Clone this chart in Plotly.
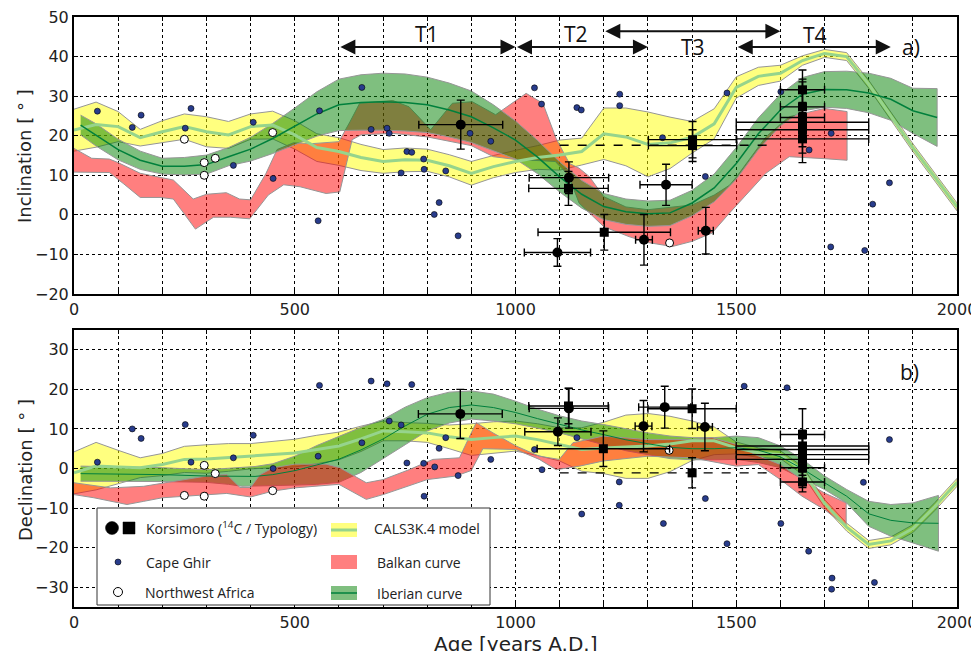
import plotly.graph_objects as go

# ---------------- DATA ----------------
# CALS3K.4 model (center and half-width of band)
cals_yr = [0, 50, 100, 150, 200, 250, 300, 350, 400, 450, 500, 550, 600, 650, 700, 750, 800, 850, 900, 950,
           1000, 1050, 1100, 1150, 1200, 1250, 1300, 1350, 1400, 1450, 1500, 1550, 1600, 1650, 1700, 1750,
           1800, 1850, 1900, 1950, 2000]
cals_inc = [21.4, 22.8, 22.3, 19.5, 21.0, 22.3, 21.0, 20.2, 22.3, 22.7, 20.2, 17.0, 16.0, 14.5, 13.5, 13.9,
            13.8, 12.4, 10.5, 12.2, 13.5, 14.5, 15.1, 16.0, 20.5, 19.7, 17.8, 18.2, 19.6, 23.0, 32.2, 35.0,
            35.8, 39.0, 40.8, 40.0, 33.0, 25.0, 17.0, 9.5, 2.0]
cals_inc_hw = [5.3, 5.7, 3.8, 2.1, 2.8, 3.2, 3.8, 3.4, 3.2, 3.5, 3.6, 3.5, 3.5, 3.3, 3.0, 3.0, 2.8, 2.8, 3.0,
               2.8, 2.8, 3.0, 3.8, 3.4, 6.5, 7.3, 8.2, 6.5, 4.0, 3.8, 2.7, 2.3, 2.0, 1.2, 1.0, 1.0, 1.0, 1.0,
               1.0, 1.0, 1.0]
cals_dec = [-1.1, 0.6, 0.4, 0.2, 1.0, 2.3, 2.4, 2.8, 3.1, 3.5, 3.9, 4.8, 5.7, 7.5, 9.5, 9.3, 9.0, 8.0, 7.3,
            7.8, 8.2, 7.3, 6.1, 4.8, 5.2, 5.5, 5.7, 6.2, 7.0, 7.0, 5.2, 4.0, 3.5, -0.5, -8.8, -14.8, -19.2,
            -18.3, -15.2, -9.6, -3.5]
cals_dec_hw = [5.3, 6.0, 4.2, 2.5, 2.8, 3.3, 3.6, 3.5, 3.2, 3.3, 3.5, 3.6, 3.5, 3.2, 2.5, 2.3, 2.4, 3.0, 4.0,
               4.0, 3.8, 4.0, 4.2, 5.5, 6.5, 8.0, 8.2, 7.0, 5.0, 3.5, 1.5, 1.2, 1.0, 1.0, 1.0, 1.0, 1.0, 1.0,
               1.0, 1.0, 1.0]

# Iberian curve
ib_inc_yr = [15, 50, 100, 150, 200, 250, 300, 350, 400, 450, 500, 550, 600, 650, 700, 750, 800, 850, 900, 950,
             1000, 1050, 1100, 1150, 1200, 1250, 1300, 1350, 1400, 1450, 1500, 1550, 1600, 1650, 1700, 1750,
             1800, 1850, 1900, 1955]
ib_inc = [22.7, 20.2, 16.5, 13.8, 12.3, 12.3, 12.7, 14.7, 16.6, 19.3, 22.3, 25.5, 27.8, 28.4, 28.6, 28.4, 27.8,
          26.5, 24.8, 22.0, 18.9, 14.6, 9.6, 5.2, 2.1, 0.8, 0.3, 0.5, 3.0, 6.8, 13.0, 20.5, 26.5, 30.5, 31.7,
          31.6, 30.8, 29.2, 26.3, 24.6]
ib_inc_hw = [2.5, 2.8, 2.6, 2.3, 2.0, 2.2, 2.4, 2.3, 3.0, 3.8, 4.7, 5.6, 6.5, 7.0, 7.2, 7.2, 7.0, 6.8, 6.5, 5.8,
             4.8, 4.2, 3.8, 3.5, 3.3, 3.2, 3.2, 3.2, 3.2, 3.5, 4.0, 4.0, 4.0, 4.2, 4.5, 4.7, 5.0, 5.3, 5.7, 7.3]
ib_dec_yr = [15, 100, 200, 300, 350, 380, 410, 450, 500, 550, 600, 650, 700, 750, 800, 850, 900, 950, 1000,
             1050, 1100, 1150, 1200, 1250, 1300, 1350, 1400, 1450, 1500, 1550, 1600, 1650, 1700, 1750, 1800,
             1850, 1900, 1958]
ib_dec_up = [0.6, 0.5, 0.2, -0.3, 0.0, 0.3, 0.5, 1.2, 3.1, 5.8, 8.2, 10.4, 12.4, 15.5, 17.9, 19.3, 19.6, 18.8,
             17.0, 15.0, 13.3, 12.0, 11.1, 10.0, 9.0, 8.2, 7.8, 7.8, 8.2, 7.8, 5.7, 2.3, -1.9, -5.3, -8.3, -9.1,
             -8.7, -6.8]
ib_dec_lo = [-3.2, -3.2, -3.3, -3.5, -4.0, -4.5, -4.5, -4.3, -4.2, -4.0, -3.5, -1.0, 2.5, 6.0, 9.5, 11.5, 12.5,
             12.0, 11.3, 10.2, 9.0, 7.5, 6.0, 4.5, 3.5, 2.5, 2.2, 2.2, 2.3, 1.5, 0.2, -2.5, -5.3, -8.7, -14.6,
             -17.1, -18.8, -20.9]

# Balkan curve (upper / lower envelopes)
bk_inc_up_yr = [0, 40, 80, 100, 150, 195, 225, 270, 300, 345, 375, 400, 435, 460, 497, 540, 600, 625, 647, 722,
                759, 808, 857, 902, 955, 1024, 1062, 1092, 1122, 1144, 1167, 1200, 1250, 1300, 1400, 1450, 1485,
                1500, 1567, 1620, 1700, 1751]
bk_inc_up = [16.8, 14.3, 14.1, 13.2, 10.5, 9.4, 8.8, 4.0, 5.2, 5.6, 4.0, 3.8, 10.5, 16.5, 18.2, 18.0, 18.5, 23.5,
             28.2, 28.9, 27.3, 21.5, 28.2, 28.6, 25.3, 30.7, 28.2, 19.3, 13.0, 11.8, 9.7, 4.6, 2.0, 1.3, 2.5, 5.0,
             7.5, 9.5, 19.7, 24.8, 26.9, 26.1]
bk_inc_lo_yr = [0, 80, 113, 150, 195, 225, 275, 316, 354, 398, 440, 475, 512, 571, 602, 630, 650, 722, 800, 900,
                950, 1000, 1050, 1090, 1120, 1144, 1200, 1257, 1300, 1355, 1400, 1445, 1485, 1500, 1567, 1620,
                1700, 1751]
bk_inc_lo = [10.8, 10.7, 7.8, 4.4, 4.4, 4.0, -3.6, -0.6, -0.6, -1.0, 5.0, 7.6, 7.1, 5.4, 5.8, 19.0, 20.2, 20.6,
             19.7, 17.5, 14.7, 14.0, 13.8, 13.5, 10.0, 3.0, -3.0, -5.5, -7.0, -8.0, -6.7, -4.6, 0.5, 2.5, 10.5,
             14.7, 14.2, 13.8]
bk_dec_up_yr = [0, 83, 158, 248, 300, 346, 376, 400, 421, 451, 500, 571, 602, 662, 700, 759, 813, 873, 911, 949,
                1001, 1054, 1099, 1130, 1160, 1199, 1299, 1400, 1445, 1500, 1543, 1600, 1649, 1700, 1749]
bk_dec_up = [-3.6, -4.9, -4.5, -2.8, -1.9, -1.5, -4.8, -4.8, -1.6, 0.2, 1.1, 1.1, 0.2, -3.6, -2.8, -0.3, 2.3, 2.7,
             11.6, 9.0, 5.7, 3.1, 2.3, 6.5, 7.3, 8.2, 7.3, 7.3, 7.8, 6.1, 3.5, 1.0, -2.8, -6.2, -8.7]
bk_dec_lo_yr = [0, 45, 120, 158, 200, 300, 346, 400, 451, 500, 600, 662, 700, 800, 865, 900, 926, 1001, 1054,
                1092, 1145, 1199, 1299, 1400, 1500, 1550, 1600, 1649, 1700, 1749]
bk_dec_lo = [-6.6, -7.4, -9.1, -8.3, -7.4, -6.6, -6.3, -7.2, -5.7, -4.9, -4.0, -7.8, -6.6, -2.8, -1.9, -0.5, 5.0,
             4.8, 2.3, -0.3, 0.6, 1.9, 3.1, 2.7, 0.6, 1.0, -2.8, -7.0, -10.4, -14.6]

# Cape Ghir
cg_inc_yr = [53, 132, 152, 252, 265, 361, 406, 451, 553, 556, 652, 673, 709, 714, 741, 754, 765, 792, 793, 816,
             827, 842, 870, 897, 944, 1043, 1059, 1139, 1149, 1236, 1236, 1333, 1430, 1479, 1601, 1665, 1715,
             1809, 1847, 1714, 1791]
cg_inc = [26.2, 22.1, 25.2, 21.9, 26.9, 12.5, 23.4, 9.2, -1.5, 26.3, 32.2, 21.6, 21.9, 20.6, 10.6, 16.0, 15.8,
          14.1, 11.5, 0.1, 3.1, 11.1, -5.3, 20.6, 18.6, 32.1, 28.0, 27.1, 26.5, 30.5, 27.6, 19.5, 9.7, 30.8,
          31.1, 16.4, 20.6, 2.7, 8.1, -8.1, -9.0]
cg_dec_yr = [53, 132, 152, 252, 265, 361, 406, 451, 553, 556, 652, 673, 709, 714, 741, 754, 765, 792, 793, 817,
             827, 842, 870, 944, 1043, 1060, 1139, 1150, 1235, 1235, 1335, 1430, 1479, 1518, 1601, 1615, 1664,
             1788, 1847, 1717, 1716, 1813]
cg_dec = [1.6, 10.0, 7.6, 11.1, 1.6, 2.7, 8.4, 0.0, 3.1, 21.0, 6.5, 22.1, 21.4, 12.0, 11.0, 1.4, 21.2, 1.3, -7.0,
          0.4, 5.1, 7.8, -1.8, 2.3, 4.8, -0.3, 7.8, -11.5, -3.4, -9.3, -13.9, -7.6, -19.0, 20.8, -13.9, 20.4,
          -20.9, -3.5, 7.3, -27.7, -30.5, -28.8]

# Northwest Africa
nw_inc_yr = [250, 295, 295, 320, 450, 1349]
nw_inc = [19.1, 13.2, 10.0, 14.3, 20.8, -7.1]
nw_dec_yr = [250, 295, 295, 320, 450, 1348]
nw_dec = [-6.8, 0.8, -7.0, -1.3, -5.6, 4.6]

# Korsimoro (14C = circles, typology = squares)
kc_inc_yr = [876, 1121, 1095, 1291, 1341, 1431]
kc_inc = [22.8, 9.4, -9.5, -6.3, 7.6, -4.0]
kc_inc_xe = [95, 90, 75, 19, 59, 17]
kc_inc_ye = [6.2, 4.0, 3.5, 6.4, 5.2, 5.9]
ks_inc_yr = [1120, 1201, 1401, 1401, 1650, 1650, 1650, 1650, 1650, 1650]
ks_inc = [6.7, -4.4, 19.0, 17.5, 31.6, 27.3, 24.6, 23.4, 21.5, 19.2]
ks_inc_xe = [90, 150, 100, 100, 50, 50, 50, 150, 150, 150]
ks_inc_ye = [4.3, 4.5, 4.6, 4.0, 5.0, 7.0, 9.0, 5.0, 4.3, 6.0]
kc_dec_yr = [875, 1096, 1121, 1290, 1338, 1429]
kc_dec = [13.8, 9.3, 15.2, 10.7, 15.5, 10.5]
kc_dec_xe = [95, 75, 90, 19, 59, 17]
kc_dec_ye = [6.2, 3.5, 5.0, 6.5, 5.3, 6.0]
ks_dec_yr = [1120, 1199, 1400, 1400, 1650, 1650, 1650, 1650, 1650, 1650, 1650]
ks_dec = [15.8, 5.0, 15.1, -1.1, 8.6, 5.7, 4.8, 3.5, 2.3, 0.2, -3.4]
ks_dec_xe = [90, 150, 100, 0, 50, 150, 150, 150, 150, 50, 50]
ks_dec_ye = [4.5, 4.5, 5.0, 3.8, 6.5, 4.0, 4.0, 4.0, 4.0, 5.0, 2.5]
# typology age range shown dashed
typ_yr = [1100, 1583]
typ_inc = 17.6
typ_dec = -1.1

# Periods T1..T4
periods = ["T1", "T2", "T3", "T4"]
period_start = [600, 1000, 1200, 1500]
period_end = [1000, 1300, 1600, 1850]
period_level = [42.4, 42.4, 46.4, 42.4]
period_lbl_x = [800, 1137, 1402, 1678]
period_lbl_y = [45.6, 45.6, 42.5, 45.4]

# ---------------- STYLE ----------------
YEL = "rgba(255,255,0,0.5)"
RED = "rgba(255,0,0,0.5)"
GRN = "rgba(0,128,0,0.5)"
EDGE = "rgb(150,150,150)"
CALS_LINE = "rgb(150,212,140)"
IB_LINE = "rgb(0,128,60)"
NAVY = "rgb(40,60,140)"

fig = go.Figure()


def band(xu, yu, xl, yl, color, xa, ya):
    xs = list(xu) + list(reversed(xl))
    ys = list(yu) + list(reversed(yl))
    fig.add_trace(go.Scatter(x=xs, y=ys, fill="toself", fillcolor=color, mode="lines",
                             line=dict(color=EDGE, width=1), hoverinfo="skip", showlegend=False,
                             xaxis=xa, yaxis=ya))


def line(x, y, color, width, xa, ya, dash="solid"):
    fig.add_trace(go.Scatter(x=x, y=y, mode="lines", line=dict(color=color, width=width, dash=dash),
                             hoverinfo="skip", showlegend=False, xaxis=xa, yaxis=ya))


def pts(x, y, xa, ya, size, color, lw, symbol="circle", xe=None, ye=None):
    kw = {}
    if xe is not None:
        kw["error_x"] = dict(type="data", array=xe, color="black", thickness=1.4, width=4)
        kw["error_y"] = dict(type="data", array=ye, color="black", thickness=1.4, width=4)
    fig.add_trace(go.Scatter(x=x, y=y, mode="markers",
                             marker=dict(size=size, color=color, symbol=symbol,
                                         line=dict(color="black", width=lw)),
                             hoverinfo="skip", showlegend=False, xaxis=xa, yaxis=ya, **kw))


# ---- top panel: inclination ----
cu = [c + h for c, h in zip(cals_inc, cals_inc_hw)]
cl = [c - h for c, h in zip(cals_inc, cals_inc_hw)]
band(cals_yr, cu, cals_yr, cl, YEL, "x", "y")
band(bk_inc_up_yr, bk_inc_up, bk_inc_lo_yr, bk_inc_lo, RED, "x", "y")
iu = [c + h for c, h in zip(ib_inc, ib_inc_hw)]
il = [c - h for c, h in zip(ib_inc, ib_inc_hw)]
band(ib_inc_yr, iu, ib_inc_yr, il, GRN, "x", "y")
line(cals_yr, cals_inc, CALS_LINE, 3, "x", "y")
line(ib_inc_yr, ib_inc, IB_LINE, 1.5, "x", "y")
pts(cg_inc_yr, cg_inc, "x", "y", 6, NAVY, 0.6)
pts(nw_inc_yr, nw_inc, "x", "y", 8, "white", 1)
line(typ_yr, [typ_inc] * len(typ_yr), "black", 1.4, "x", "y", dash="dash")
pts(kc_inc_yr, kc_inc, "x", "y", 10, "black", 0, "circle", kc_inc_xe, kc_inc_ye)
pts(ks_inc_yr, ks_inc, "x", "y", 9, "black", 0, "square", ks_inc_xe, ks_inc_ye)

# ---- bottom panel: declination ----
cu = [c + h for c, h in zip(cals_dec, cals_dec_hw)]
cl = [c - h for c, h in zip(cals_dec, cals_dec_hw)]
band(cals_yr, cu, cals_yr, cl, YEL, "x2", "y2")
band(ib_dec_yr, ib_dec_up, ib_dec_yr, ib_dec_lo, GRN, "x2", "y2")
band(bk_dec_up_yr, bk_dec_up, bk_dec_lo_yr, bk_dec_lo, RED, "x2", "y2")
line(cals_yr, cals_dec, CALS_LINE, 3, "x2", "y2")
line(ib_dec_yr, [(a + b) / 2 for a, b in zip(ib_dec_up, ib_dec_lo)], IB_LINE, 1.0, "x2", "y2")
pts(cg_dec_yr, cg_dec, "x2", "y2", 6, NAVY, 0.6)
pts(nw_dec_yr, nw_dec, "x2", "y2", 8, "white", 1)
line(typ_yr, [typ_dec] * len(typ_yr), "black", 1.4, "x2", "y2", dash="dash")
pts(kc_dec_yr, kc_dec, "x2", "y2", 10, "black", 0, "circle", kc_dec_xe, kc_dec_ye)
pts(ks_dec_yr, ks_dec, "x2", "y2", 9, "black", 0, "square", ks_dec_xe, ks_dec_ye)

# ---------------- LAYOUT ----------------
# page body has an 8 px margin; figure sized so that the plot area lands where the reference has it
OFF = 8
W, H = 979 - OFF, 651 - OFF
ML, MR, MT, MB = 74 - OFF, 22, 17 - OFF, 44
PW = W - ML - MR
PH = H - MT - MB


def xp(px):  # window pixel -> paper fraction
    return (px - OFF - ML) / PW


def yp(py):
    return (H - MB - (py - OFF)) / PH


tick_font = dict(family="DejaVu Sans", size=16, color="#222")
xtv = [v for v in range(0, 2001, 100)]
xtt = [str(v) if v % 500 == 0 else "" for v in xtv]
xcommon = dict(range=[0, 2000], tickvals=xtv, ticktext=xtt, showgrid=True, gridcolor="black",
               griddash="dot", gridwidth=1, showline=True, linecolor="black", linewidth=2, mirror="ticks",
               ticks="inside", ticklen=4, tickcolor="black", tickfont=tick_font, zeroline=False,
               automargin=False, ticklabeloverflow="allow")
ycommon = dict(showgrid=True, gridcolor="black", griddash="dot", gridwidth=1, showline=True,
               linecolor="black", linewidth=2, mirror="ticks", ticks="inside", ticklen=4, tickcolor="black",
               tickfont=tick_font, zeroline=False, automargin=False, ticklabeloverflow="allow")

fig.update_layout(
    width=W, height=H, margin=dict(l=ML, r=MR, t=MT, b=MB, pad=0, autoexpand=False),
    paper_bgcolor="white", plot_bgcolor="white", showlegend=False,
    xaxis=dict(anchor="y", **xcommon),
    yaxis=dict(domain=[yp(294), 1], range=[-20, 50], tickvals=[-20, -10, 0, 10, 20, 30, 40, 50], **ycommon),
    xaxis2=dict(anchor="y2", **xcommon),
    yaxis2=dict(domain=[0, yp(330)], range=[-35, 35], tickvals=[-30, -20, -10, 0, 10, 20, 30], **ycommon),
)

ann = []
# period arrows and labels
for name, s, e, lv, lx, ly in zip(periods, period_start, period_end, period_level, period_lbl_x, period_lbl_y):
    ann.append(dict(x=e, y=lv, ax=s, ay=lv, xref="x", yref="y", axref="x", ayref="y", text="",
                    showarrow=True, arrowhead=2, arrowside="end+start", arrowsize=1.5, arrowwidth=2,
                    arrowcolor="#111", standoff=0, startstandoff=0))
    ann.append(dict(x=lx, y=ly, xref="x", yref="y", text=name, showarrow=False,
                    xanchor="center", yanchor="middle",
                    font=dict(family="Open Sans", size=21, color="#111")))
ann.append(dict(x=1896, y=42.3, xref="x", yref="y", text="a)", showarrow=False, xanchor="center",
                yanchor="middle", font=dict(family="Open Sans", size=21, color="#111")))
ann.append(dict(x=1893, y=24.5, xref="x2", yref="y2", text="b)", showarrow=False, xanchor="center",
                yanchor="middle", font=dict(family="Open Sans", size=21, color="#111")))
# axis titles
ann.append(dict(x=xp(25), y=yp(156), xref="paper", yref="paper", text="Inclination [ ° ]", textangle=-90,
                xanchor="center", yanchor="middle", showarrow=False,
                font=dict(family="DejaVu Sans", size=18, color="#222")))
ann.append(dict(x=xp(25), y=yp(470), xref="paper", yref="paper", text="Declination [ ° ]", textangle=-90,
                xanchor="center", yanchor="middle", showarrow=False,
                font=dict(family="DejaVu Sans", size=18, color="#222")))
ann.append(dict(x=0.5, y=yp(630), xref="paper", yref="paper", text="Age [years A.D.]", xanchor="center",
                yanchor="top", showarrow=False, font=dict(family="DejaVu Sans", size=20, color="#222")))

# legend (drawn manually)
lf = dict(family="Open Sans", size=14, color="#222")
leg_items = [("Korsimoro (<sup>14</sup>C / Typology)", 144, 528), ("Cape Ghir", 144, 562),
             ("Northwest Africa", 143, 592), ("CALS3K.4 model", 372, 528), ("Balkan curve", 375, 562),
             ("Iberian curve", 375, 593)]
for txt, px, py in leg_items:
    ann.append(dict(x=xp(px), y=yp(py), xref="paper", yref="paper", text=txt, xanchor="left",
                    yanchor="middle", showarrow=False, font=lf))

shapes = [
    dict(type="rect", xref="paper", yref="paper", x0=xp(97), x1=xp(490), y0=yp(605), y1=yp(508),
         fillcolor="white", line=dict(color="#333", width=1), layer="above"),
]


def pshape(kind, cx, cy, hw, hh, fill, lc, lw):
    return dict(type=kind, xref="paper", yref="paper", xsizemode="pixel", ysizemode="pixel",
                xanchor=xp(cx), yanchor=yp(cy), x0=-hw, x1=hw, y0=-hh, y1=hh,
                fillcolor=fill, line=dict(color=lc, width=lw), layer="above")


shapes.append(pshape("circle", 112, 528, 6.5, 6.5, "black", "black", 0.5))
shapes.append(pshape("rect", 129, 528, 6, 6, "black", "black", 0.5))
shapes.append(pshape("circle", 118, 562, 3, 3, NAVY, "black", 0.6))
shapes.append(pshape("circle", 118, 592, 4.5, 4.5, "white", "black", 1))
for py0, py1, col in [(523, 537, YEL), (555, 569, RED), (586, 600, GRN)]:
    shapes.append(dict(type="rect", xref="paper", yref="paper", x0=xp(331), x1=xp(357), y0=yp(py1),
                       y1=yp(py0), fillcolor=col, line=dict(width=0), layer="above"))
shapes.append(dict(type="line", xref="paper", yref="paper", x0=xp(331), x1=xp(357), y0=yp(530), y1=yp(530),
                   line=dict(color=CALS_LINE, width=3), layer="above"))
shapes.append(dict(type="line", xref="paper", yref="paper", x0=xp(331), x1=xp(357), y0=yp(593), y1=yp(593),
                   line=dict(color=IB_LINE, width=1.5), layer="above"))

fig.update_layout(annotations=ann, shapes=shapes)
fig.write_html("out.html")
